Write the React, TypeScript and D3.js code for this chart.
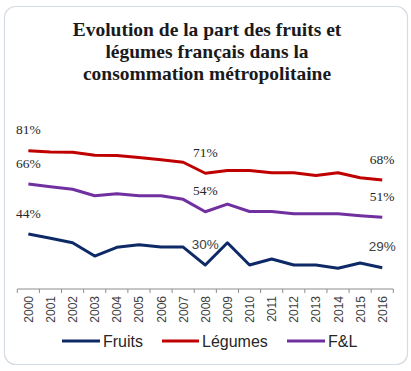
import * as d3 from "d3";

const years = ["2000", "2001", "2002", "2003", "2004", "2005", "2006", "2007", "2008", "2009", "2010", "2011", "2012", "2013", "2014", "2015", "2016"];
const fruits = [44, 42.1, 40.1, 34.2, 38.1, 39.2, 38.2, 38.2, 30.2, 40.1, 30.2, 32.9, 30.2, 30.2, 28.8, 31.1, 29];
const legumes = [81, 80.4, 80.3, 79, 78.9, 78, 77, 75.9, 71, 72.2, 72.2, 71.2, 71.2, 70, 71.2, 69, 68];
const fl = [66.2, 65, 63.9, 61, 61.9, 61, 61, 59.4, 53.9, 57.3, 54, 54, 53, 53, 53, 52.1, 51.4];
const labelYears = ["2000", "2008", "2016"];
const titleLines = ["Evolution de la part des fruits et", "légumes français dans la", "consommation métropolitaine"];

const series = [
  { name: "Fruits", values: fruits, color: "#0e2a66", serifLabels: false },
  { name: "Légumes", values: legumes, color: "#c00000", serifLabels: true },
  { name: "F&L", values: fl, color: "#7030a0", serifLabels: true },
];

const W = 411;
const H = 371;
const serif = "'Liberation Serif', 'DejaVu Serif', serif";
const sans = "'Liberation Sans', Arial, sans-serif";

export default function App() {
  const x = d3.scaleBand<string>().domain(years).range([17.3, 393.3]);
  const y = d3.scaleLinear().domain([20, 90]).range([288, 130.5]);
  const cx = (yr: string) => (x(yr) ?? 0) + x.bandwidth() / 2;
  const axisY = 289;

  const line = d3
    .line<number>()
    .x((_, i) => cx(years[i]))
    .y((d) => y(d));

  const tickXs = years.map((yr) => x(yr) ?? 0).concat([x.range()[1]]);

  const legend = [
    { name: "Fruits", color: "#0e2a66", x0: 62, x1: 100 },
    { name: "Légumes", color: "#c00000", x0: 162, x1: 199 },
    { name: "F&L", color: "#7030a0", x0: 287, x1: 325 },
  ];

  return (
    <svg width={W} height={H} style={{ position: "absolute", left: 0, top: 0 }}>
      <rect x={0} y={0} width={W} height={H} fill="#fff" />
      <rect x={4.5} y={6.5} width={403} height={358} rx={11} fill="#fff" stroke="#d5dbe2" strokeWidth={1.2} />

      {titleLines.map((t, i) => (
        <text key={t} x={207} y={36 + i * 22.2} textAnchor="middle" fontFamily={serif} fontWeight="bold" fontSize={19.5} fill="#1a1a1a">
          {t}
        </text>
      ))}

      <line x1={x.range()[0]} x2={x.range()[1]} y1={axisY} y2={axisY} stroke="#8c8c8c" strokeWidth={1} />
      {tickXs.map((t, i) => (
        <line key={i} x1={t} x2={t} y1={axisY} y2={axisY + 4} stroke="#8c8c8c" strokeWidth={1} />
      ))}
      {years.map((yr) => (
        <text
          key={yr}
          transform={`translate(${cx(yr) + 4.5},${axisY + 7}) rotate(-90)`}
          textAnchor="end"
          fontFamily={sans}
          fontSize={12}
          fill="#404040"
        >
          {yr}
        </text>
      ))}

      {series.map((s) => (
        <path key={s.name} d={line(s.values) ?? ""} fill="none" stroke={s.color} strokeWidth={3} strokeLinejoin="round" />
      ))}

      {series.map((s) =>
        labelYears.map((yr) => {
          const i = years.indexOf(yr);
          const v = s.values[i];
          const serifLbl = s.serifLabels || yr === "2000";
          return (
            <text
              key={s.name + yr}
              x={cx(yr)}
              y={y(v) - 16.5}
              textAnchor="middle"
              fontFamily={serifLbl ? serif : sans}
              fontSize={13.5}
              fill={serifLbl ? "#262626" : "#404040"}
            >
              {Math.round(v)}%
            </text>
          );
        })
      )}

      {legend.map((l) => (
        <g key={l.name}>
          <line x1={l.x0} x2={l.x1} y1={341} y2={341} stroke={l.color} strokeWidth={3} />
          <text x={l.x1 + 3} y={346.5} fontFamily={sans} fontSize={16} fill="#262626">
            {l.name}
          </text>
        </g>
      ))}
    </svg>
  );
}
